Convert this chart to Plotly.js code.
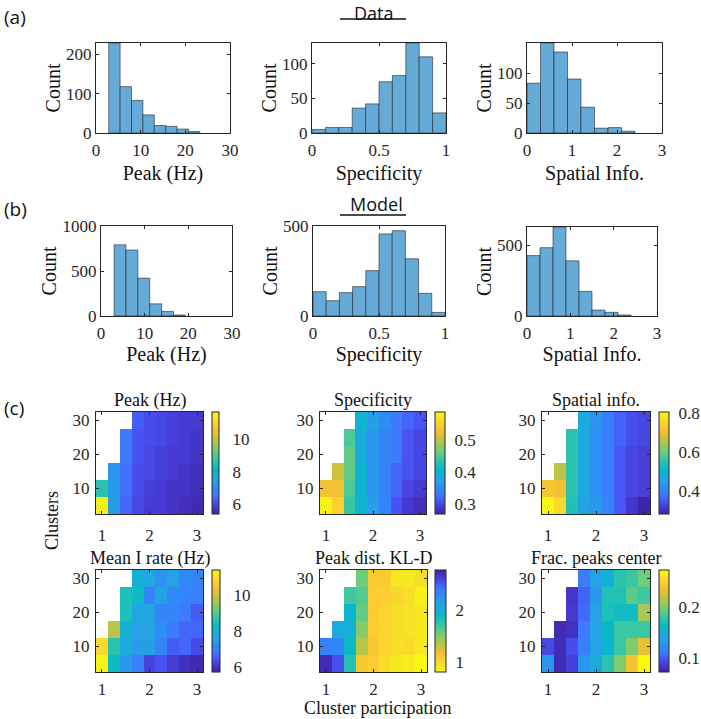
<!DOCTYPE html>
<html><head><meta charset="utf-8">
<script src="https://cdn.plot.ly/plotly-3.0.1.min.js"></script>
<style>html,body{margin:0;padding:0;background:#fff}#chart{width:701px;height:719px}</style>
</head><body><div id="chart"></div>
<script>
// ---------------- DATA ----------------
// (a) Data histograms
const peakEdgesData = [2.85, 5.4, 7.95, 10.5, 13.05, 15.6, 18.15, 20.7, 23.25];
const peakCountsData = [229, 118, 83, 46, 19, 17, 10, 4];
const specEdges = [0, 0.1, 0.2, 0.3, 0.4, 0.5, 0.6, 0.7, 0.8, 0.9, 1.0];
const specCountsData = [5, 8, 8, 36, 42, 74, 83, 130, 110, 29];
const infoEdges = [0, 0.3, 0.6, 0.9, 1.2, 1.5, 1.8, 2.1, 2.4];
const infoCountsData = [83, 150, 135, 90, 43, 8, 9, 3];
// (b) Model histograms
const peakEdgesModel = [3.0, 5.72, 8.44, 11.16, 13.88, 16.6, 19.32];
const peakCountsModel = [791, 733, 421, 135, 51, 11];
const specCountsModel = [135, 85, 130, 163, 252, 456, 474, 318, 126, 20];
const infoCountsModel = [427, 483, 629, 390, 174, 42, 26, 7];

// (c) heatmaps: columns = cluster participation, rows = clusters
const clusterParticipation = [1, 1.25, 1.5, 1.75, 2, 2.25, 2.5, 2.75, 3];
const clusters = [5, 10, 15, 20, 25, 30];
const peakHz = [
  [11.5, 7.4, 6.4, 6.0, 5.8, 5.8, 5.7, 5.6, 5.5],
  [8.6, 7.3, 6.5, 6.1, 5.9, 5.8, 5.7, 5.7, 5.6],
  [null, 7.2, 6.5, 6.1, 6.0, 5.9, 5.8, 5.7, 5.6],
  [null, null, 6.6, 6.2, 6.0, 5.9, 5.8, 5.8, 5.7],
  [null, null, 6.6, 6.2, 6.1, 6.0, 5.9, 5.8, 5.7],
  [null, null, null, 6.3, 6.1, 6.0, 5.9, 5.8, 5.8]
];
const specificity = [
  [0.58, 0.55, 0.44, 0.40, 0.37, 0.34, 0.31, 0.29, 0.28],
  [0.53, 0.53, 0.45, 0.40, 0.36, 0.34, 0.32, 0.30, 0.29],
  [null, 0.51, 0.46, 0.40, 0.36, 0.34, 0.32, 0.31, 0.30],
  [null, null, 0.46, 0.39, 0.36, 0.34, 0.33, 0.31, 0.30],
  [null, null, 0.45, 0.39, 0.36, 0.34, 0.33, 0.31, 0.30],
  [null, null, null, 0.40, 0.37, 0.35, 0.33, 0.32, 0.31]
];
const spatialInfo = [
  [0.80, 0.76, 0.54, 0.46, 0.44, 0.40, 0.35, 0.31, 0.28],
  [0.72, 0.71, 0.55, 0.47, 0.42, 0.39, 0.35, 0.33, 0.32],
  [null, 0.66, 0.55, 0.47, 0.42, 0.39, 0.35, 0.33, 0.32],
  [null, null, 0.55, 0.47, 0.42, 0.39, 0.35, 0.33, 0.32],
  [null, null, 0.55, 0.47, 0.42, 0.39, 0.36, 0.34, 0.33],
  [null, null, null, 0.47, 0.43, 0.39, 0.36, 0.34, 0.33]
];
const meanIRate = [
  [11.3, 8.3, 7.4, 6.9, 6.2, 6.4, 6.1, 5.9, 5.8],
  [10.9, 8.6, 7.8, 7.5, 7.5, 7.0, 6.5, 6.6, 6.3],
  [null, 9.8, 8.0, 7.6, 7.6, 7.2, 6.8, 6.6, 6.6],
  [null, null, 8.5, 7.7, 7.6, 7.0, 7.0, 6.8, 6.5],
  [null, null, 8.5, 8.3, 7.0, 7.6, 7.1, 7.0, 6.9],
  [null, null, null, 8.0, 7.7, 7.3, 7.6, 7.1, 7.0]
];
const peakDistKLD = [
  [2.72, 2.53, 1.78, 1.10, 1.05, 0.95, 0.90, 0.88, 0.83],
  [2.33, 2.30, 1.88, 1.36, 1.10, 1.00, 0.95, 0.98, 0.90],
  [null, 2.02, 2.00, 1.49, 1.06, 1.00, 0.95, 0.92, 0.90],
  [null, null, 1.94, 1.59, 1.07, 1.00, 0.95, 0.92, 0.90],
  [null, null, 1.69, 1.63, 1.06, 1.05, 1.00, 0.95, 0.86],
  [null, null, null, 1.55, 1.08, 1.08, 0.91, 0.90, 0.95]
];
const fracPeaksCenter = [
  [0.130, 0.077, 0.089, 0.130, 0.145, 0.175, 0.200, 0.237, 0.270],
  [0.093, 0.078, 0.095, 0.115, 0.140, 0.155, 0.180, 0.200, 0.230],
  [null, 0.077, 0.080, 0.110, 0.140, 0.160, 0.180, 0.180, 0.180],
  [null, null, 0.085, 0.105, 0.140, 0.170, 0.165, 0.165, 0.210],
  [null, null, 0.083, 0.103, 0.130, 0.172, 0.172, 0.190, 0.180],
  [null, null, null, 0.113, 0.140, 0.150, 0.175, 0.180, 0.195]
];

// ---------------- STYLE ----------------
const W = 701, H = 719;
const serif = 'Liberation Serif, Times New Roman, serif';
const sans = 'Open Sans, Noto Sans, sans-serif';
const axCol = '#262626';
const parulaPts = [
  [0.2422,0.1504,0.6603],[0.2691,0.2266,0.8165],[0.2810,0.3228,0.9579],[0.2464,0.4749,0.9911],
  [0.1801,0.5445,0.9661],[0.1567,0.6146,0.9114],[0.1052,0.6733,0.8627],[0.0264,0.7205,0.7831],
  [0.1389,0.7570,0.7103],[0.2798,0.7917,0.5983],[0.4549,0.8016,0.4670],[0.6391,0.7849,0.3386],
  [0.8096,0.7618,0.2345],[0.9455,0.7564,0.2012],[0.9932,0.8044,0.1911],[0.9644,0.8878,0.1476],
  [0.9763,0.9831,0.0538]
];
const parula = parulaPts.map((c, i) => [i / (parulaPts.length - 1),
  'rgb(' + c.map(v => Math.round(v * 255)).join(',') + ')']);

const px = x => x / W;
const py = y => 1 - y / H;
const xd = (a, b) => [px(a), px(b)];
const yd = (a, b) => [py(b), py(a)];

function ax(domain, range, tickvals, extra) {
  return Object.assign({
    domain, range, tickvals, autorange: false,
    ticks: 'inside', ticklen: 3, tickwidth: 1, tickcolor: axCol,
    showline: true, linecolor: axCol, linewidth: 1, mirror: 'ticks',
    showgrid: false, zeroline: false, fixedrange: true,
    tickfont: {family: serif, size: 17, color: axCol}
  }, extra || {});
}

const traces = [];
const layout = {
  width: W, height: H, margin: {l: 0, r: 0, t: 0, b: 0},
  paper_bgcolor: '#fff', plot_bgcolor: '#fff', showlegend: false,
  bargap: 0, annotations: [], shapes: []
};

// histograms
const hists = [
  {edges: peakEdgesData, counts: peakCountsData, xr: [0, 30], xt: [0, 10, 20, 30], yr: [0, 229], yt: [0, 100, 200], xt2: 'Peak (Hz)', box: [96, 230, 43, 133], xs: 6},
  {edges: specEdges, counts: specCountsData, xr: [0, 1], xt: [0, 0.5, 1], yr: [0, 130], yt: [0, 50, 100], xt2: 'Specificity', box: [312, 446, 43, 133], xs: 6},
  {edges: infoEdges, counts: infoCountsData, xr: [0, 3], xt: [0, 1, 2, 3], yr: [0, 150], yt: [0, 50, 100], xt2: 'Spatial Info.', box: [527, 662, 43, 133], xs: 6},
  {edges: peakEdgesModel, counts: peakCountsModel, xr: [0, 30], xt: [0, 10, 20, 30], yr: [0, 1000], yt: [0, 500, 1000], xt2: 'Peak (Hz)', box: [101, 232, 226, 316], xs: 1},
  {edges: specEdges, counts: specCountsModel, xr: [0, 1], xt: [0, 0.5, 1], yr: [0, 500], yt: [0, 500], xt2: 'Specificity', box: [313, 445, 226, 316], xs: 1},
  {edges: infoEdges, counts: infoCountsModel, xr: [0, 3], xt: [0, 1, 2, 3], yr: [0, 629], yt: [0, 500], xt2: 'Spatial Info.', box: [527, 657, 227, 316], xs: 1}
];
hists.forEach((h, i) => {
  const n = i + 1, sfx = n === 1 ? '' : n;
  const xs = [], ws = [];
  for (let k = 0; k < h.counts.length; k++) {
    xs.push((h.edges[k] + h.edges[k + 1]) / 2);
    ws.push(h.edges[k + 1] - h.edges[k]);
  }
  traces.push({type: 'bar', x: xs, y: h.counts, width: ws, xaxis: 'x' + sfx, yaxis: 'y' + sfx,
    marker: {color: 'rgb(102,170,215)', line: {color: 'rgba(38,38,38,0.75)', width: 0.8}},
    hoverinfo: 'x+y'});
  const b = h.box;
  layout['xaxis' + sfx] = ax(xd(b[0], b[1]), h.xr, h.xt, {anchor: 'y' + sfx, ticklabelstandoff: 2,
    title: {text: h.xt2, font: {family: serif, size: 20, color: '#111'}, standoff: h.xs}});
  layout['yaxis' + sfx] = ax(yd(b[2], b[3]), h.yr, h.yt, {anchor: 'x' + sfx, ticklabelstandoff: 0,
    title: {text: 'Count', font: {family: serif, size: 20, color: '#111'}, standoff: 0}});
});

// heatmaps
const maps = [
  {z: peakHz, zr: [5.4, 11.7], ct: [6, 8, 10], title: 'Peak (Hz)', box: [96, 203, 412, 514], cb: [212, 219], gap: 10, ts: 6},
  {z: specificity, zr: [0.27, 0.587], ct: [0.3, 0.4, 0.5], title: 'Specificity', box: [320, 426, 412, 514], cb: [435, 445], gap: 6, ts: 6},
  {z: spatialInfo, zr: [0.28, 0.807], ct: [0.4, 0.6, 0.8], title: 'Spatial info.', box: [542, 650, 412, 514], cb: [659, 669], gap: 6, ts: 6},
  {z: meanIRate, zr: [5.7, 11.4], ct: [6, 8, 10], title: 'Mean I rate (Hz)', box: [96, 203, 570, 672], cb: [212, 220], gap: 10, ts: 2},
  {z: peakDistKLD, zr: [0.81, 2.76], ct: [1, 2], title: 'Peak dist. KL-D', box: [320, 427, 570, 672], cb: [435, 446], gap: 6, ts: 2, rev: true},
  {z: fracPeaksCenter, zr: [0.073, 0.271], ct: [0.1, 0.2], title: 'Frac. peaks center', box: [542, 650, 570, 672], cb: [659, 669], gap: 6, ts: 2}
];
maps.forEach((m, i) => {
  const n = i + 7, b = m.box;
  traces.push({type: 'heatmap', x: clusterParticipation, y: clusters, z: m.z,
    xaxis: 'x' + n, yaxis: 'y' + n, zmin: m.zr[0], zmax: m.zr[1], zauto: false,
    colorscale: parula, reversescale: !!m.rev, hoverongaps: false,
    colorbar: {x: px(m.cb[0]), xanchor: 'left', y: py(b[3]), yanchor: 'bottom',
      len: (b[3] - b[2]) / H, lenmode: 'fraction', thickness: m.cb[1] - m.cb[0], thicknessmode: 'pixels',
      xpad: 0, ypad: 0, outlinewidth: 1, outlinecolor: axCol,
      tickvals: m.ct, ticks: 'outside', ticklen: m.gap, tickcolor: 'rgba(0,0,0,0)',
      tickfont: {family: serif, size: 17, color: axCol}}});
  layout['xaxis' + n] = ax(xd(b[0], b[1]), [0.875, 3.125], [1, 2, 3], {anchor: 'y' + n, ticklabelstandoff: m.ts});
  layout['yaxis' + n] = ax(yd(b[2], b[3]), [2.5, 32.5], [10, 20, 30], {anchor: 'x' + n, ticklabelstandoff: 2});
  layout.annotations.push({text: m.title, xref: 'paper', yref: 'paper', x: px((b[0] + b[1]) / 2),
    y: py(b[2] - 12), xanchor: 'center', yanchor: 'middle', showarrow: false,
    font: {family: serif, size: 18, color: '#111'}});
});

// panel labels and headings
const ann = (text, x, y, font, extra) => layout.annotations.push(Object.assign({text, xref: 'paper', yref: 'paper',
  x: px(x), y: py(y), showarrow: false, font}, extra || {}));
ann('(a)', 2, 17, {family: sans, size: 19, color: '#111'}, {xanchor: 'left', yanchor: 'middle'});
ann('(b)', 2, 209, {family: sans, size: 19, color: '#111'}, {xanchor: 'left', yanchor: 'middle'});
ann('(c)', 2, 408, {family: sans, size: 19, color: '#111'}, {xanchor: 'left', yanchor: 'middle'});
ann('Data', 374, 0, {family: sans, size: 18, color: '#111'}, {xanchor: 'center', yanchor: 'top', borderpad: 0});
ann('Model', 376, 204, {family: sans, size: 18, color: '#111'}, {xanchor: 'center', yanchor: 'middle'});
ann('Clusters', 52, 521, {family: serif, size: 18, color: '#111'}, {xanchor: 'center', yanchor: 'middle', textangle: -90});
ann('Cluster participation', 377, 719, {family: serif, size: 18, color: '#111'}, {xanchor: 'center', yanchor: 'bottom', borderpad: 0});
[19, 215].forEach(y => layout.shapes.push({type: 'line', xref: 'paper', yref: 'paper',
  x0: px(340), x1: px(406), y0: py(y), y1: py(y), line: {color: '#111', width: 1.5}}));

Plotly.newPlot('chart', traces, layout, {displayModeBar: false, staticPlot: true});
</script>
</body></html>
